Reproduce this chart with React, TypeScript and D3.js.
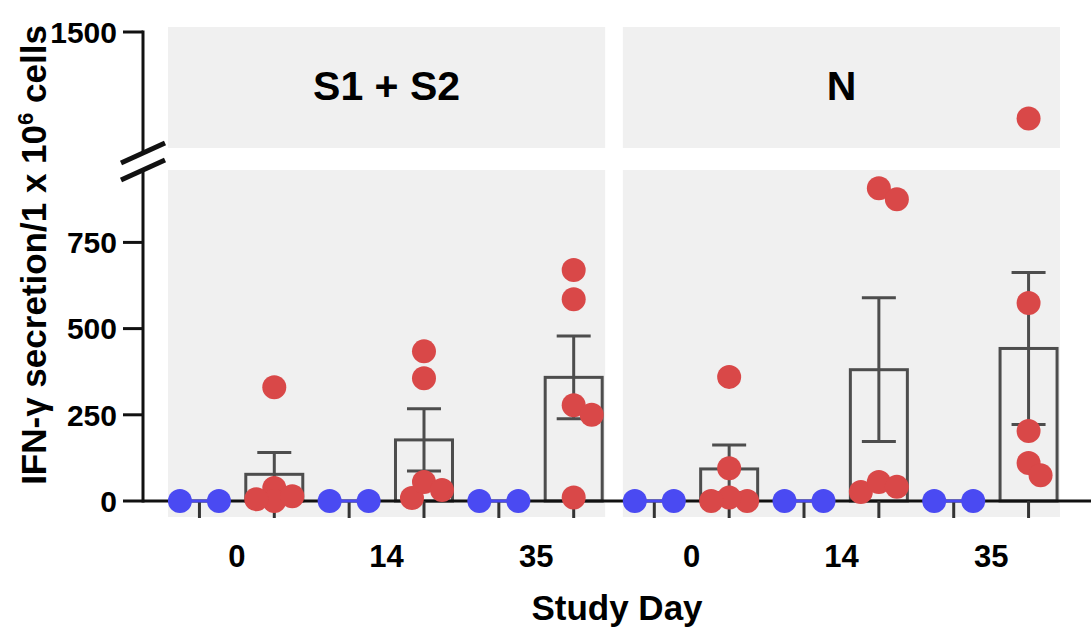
import React from 'react';
import * as d3 from 'd3';

// panels, days and the per-day groups
const panels = ['S1 + S2', 'N'];
const days = ['0', '14', '35'];

// IFN-γ values, one array per study day (control in blue, treated in red)
const s1s2Control = [[0, 0], [0, 0], [0, 0]];
const s1s2Treated = [
  [330, 38, 0, 5, 14],
  [434, 356, 9, 55, 32],
  [670, 585, 278, 250, 10],
];
const nControl = [[0, 0], [0, 0], [0, 0]];
const nTreated = [
  [360, 95, 0, 10, 0],
  [907, 875, 26, 55, 41],
  [1250, 574, 203, 110, 75],
];

const yTicksLower = [0, 250, 500, 750];
const yTicksUpper = [1500];
const lowerDomain = [0, 960];
const upperDomain = [1150, 1500];

const W = 1091;
const H = 634;
const FONT = '"Liberation Sans", Arial, Helvetica, sans-serif';
const RED = '#d94848';
const BLUE = '#4a4af2';
const BAR = '#4d4d4d';
const PANEL_BG = '#f0f0f0';

const mean = (a: number[]) => d3.mean(a) as number;
const sem = (a: number[]) => (a.length > 1 ? (d3.deviation(a) as number) / Math.sqrt(a.length) : 0);

// GraphPad-like horizontal spreading of points that would overlap
function spread(values: number[], yOf: (v: number) => number, step = 6, minDist = 17, maxOff = 24) {
  if (values.every((v) => v === values[0])) {
    return values.map((_, i) => (i - (values.length - 1) / 2) * 39);
  }
  const cands = [0];
  for (let k = 1; k * step <= maxOff; k++) cands.push(k * step, -k * step);
  const order = values.map((_, i) => i).sort((a, b) => values[b] - values[a] || a - b);
  const placed: { x: number; y: number }[] = [];
  const offs = new Array(values.length).fill(0);
  order.forEach((idx) => {
    const y = yOf(values[idx]);
    let pick: number | null = null;
    let bestC = 0;
    let bestD = -1;
    for (const c of cands) {
      const md = placed.length ? d3.min(placed, (p) => Math.hypot(c - p.x, y - p.y)) as number : Infinity;
      if (md >= minDist) { pick = c; break; }
      if (md > bestD) { bestD = md; bestC = c; }
    }
    offs[idx] = pick ?? bestC;
    placed.push({ x: offs[idx], y });
  });
  return offs;
}

export default function App() {
  const yLower = d3.scaleLinear().domain(lowerDomain).range([501, 170]);
  const yUpper = d3.scaleLinear().domain(upperDomain).range([153, 32]);
  const yOf = (v: number) => (v > lowerDomain[1] ? yUpper(v) : yLower(v));
  const y0 = yLower(0);
  const axisX = 143;

  const panelX = d3.scaleBand().domain(panels).range([168, 1060]).paddingInner(0.039);
  const bw = panelX.bandwidth();
  const slots = days.flatMap((d) => [`${d}-c`, `${d}-t`]);
  const slotX = d3.scalePoint().domain(slots).range([0, bw]).padding(0.42);

  const data = [
    { panel: 'S1 + S2', control: s1s2Control, treated: s1s2Treated },
    { panel: 'N', control: nControl, treated: nTreated },
  ];

  const barW = 57;
  const capW = 34;
  const r = 12;

  return (
    <svg width={W} height={H} style={{ position: 'absolute', left: 0, top: 0, background: '#fff' }} fontFamily={FONT}>
      {/* panel backgrounds and titles */}
      {panels.map((p) => (
        <g key={p}>
          <rect x={panelX(p)} y={yUpper(upperDomain[1]) - 5} width={bw}
            height={yUpper(upperDomain[0]) - yUpper(upperDomain[1])} fill={PANEL_BG} />
          <rect x={panelX(p)} y={yLower(lowerDomain[1])} width={bw}
            height={y0 + 16 - yLower(lowerDomain[1])} fill={PANEL_BG} />
          <text x={(panelX(p) as number) + bw / 2} y={100} textAnchor="middle" fontSize={41} fontWeight="bold">{p}</text>
        </g>
      ))}

      {/* bars and error bars for treated groups */}
      {data.map((pd) =>
        days.map((d, i) => {
          const vals = pd.treated[i];
          const m = mean(vals);
          const e = sem(vals);
          const cx = (panelX(pd.panel) as number) + (slotX(`${d}-t`) as number);
          return (
            <g key={`${pd.panel}-${d}-bar`} stroke={BAR} strokeWidth={3} fill="none">
              <rect x={cx - barW / 2} y={yLower(m)} width={barW} height={y0 - yLower(m)} />
              <line x1={cx} x2={cx} y1={yLower(m - e)} y2={yLower(m + e)} />
              <line x1={cx - capW / 2} x2={cx + capW / 2} y1={yLower(m + e)} y2={yLower(m + e)} />
              <line x1={cx - capW / 2} x2={cx + capW / 2} y1={yLower(m - e)} y2={yLower(m - e)} />
            </g>
          );
        })
      )}

      {/* x axis */}
      <line x1={axisX} x2={W} y1={y0} y2={y0} stroke="#111" strokeWidth={3} />
      {data.map((pd) =>
        slots.map((s) => {
          const x = (panelX(pd.panel) as number) + (slotX(s) as number);
          return <line key={`${pd.panel}-${s}-tick`} x1={x} x2={x} y1={y0} y2={y0 + 17} stroke="#333" strokeWidth={3} />;
        })
      )}
      {/* zero-height control bars */}
      {data.map((pd) =>
        days.map((d, i) => {
          const cx = (panelX(pd.panel) as number) + (slotX(`${d}-c`) as number);
          const m = mean(pd.control[i]);
          return <line key={`${pd.panel}-${d}-cbar`} x1={cx - barW / 2} x2={cx + barW / 2} y1={yLower(m)} y2={yLower(m)} stroke={BLUE} strokeWidth={3} />;
        })
      )}

      {/* y axis: two segments with a break */}
      <g stroke="#111" strokeWidth={3}>
        <line x1={axisX} x2={axisX} y1={y0 + 1.5} y2={yLower(lowerDomain[1])} />
        <line x1={axisX} x2={axisX} y1={yUpper(upperDomain[0])} y2={yUpper(upperDomain[1]) - 1.5} />
        {yTicksLower.map((t) => <line key={t} x1={axisX - 20} x2={axisX} y1={yLower(t)} y2={yLower(t)} />)}
        {yTicksUpper.map((t) => <line key={t} x1={axisX - 20} x2={axisX} y1={yUpper(t)} y2={yUpper(t)} />)}
      </g>
      <g stroke="#111" strokeWidth={5}>
        {[yUpper(upperDomain[0]), yLower(lowerDomain[1])].map((yy, i) => (
          <line key={i} x1={axisX - 22} y1={yy + 10} x2={axisX + 22} y2={yy - 10} />
        ))}
      </g>
      <g fontSize={30} fontWeight="bold" textAnchor="end">
        {yTicksLower.map((t) => <text key={t} x={117} y={yLower(t)} dy="0.36em">{t}</text>)}
        {yTicksUpper.map((t) => <text key={t} x={117} y={yUpper(t)} dy="0.36em">{t}</text>)}
      </g>

      {/* points */}
      {data.map((pd) =>
        days.map((d, i) => {
          const cc = (panelX(pd.panel) as number) + (slotX(`${d}-c`) as number);
          const ct = (panelX(pd.panel) as number) + (slotX(`${d}-t`) as number);
          const co = spread(pd.control[i], yOf);
          const to = spread(pd.treated[i], yOf);
          return (
            <g key={`${pd.panel}-${d}-pts`}>
              {pd.control[i].map((v, j) => <circle key={`c${j}`} cx={cc + co[j]} cy={yOf(v)} r={r} fill={BLUE} />)}
              {pd.treated[i].map((v, j) => <circle key={`t${j}`} cx={ct + to[j]} cy={yOf(v)} r={r} fill={RED} />)}
            </g>
          );
        })
      )}

      {/* x tick labels */}
      <g fontSize={31} fontWeight="bold" textAnchor="middle">
        {data.map((pd) =>
          days.map((d) => {
            const x = (panelX(pd.panel) as number) + ((slotX(`${d}-c`) as number) + (slotX(`${d}-t`) as number)) / 2;
            return <text key={`${pd.panel}-${d}-lab`} x={x} y={567}>{d}</text>;
          })
        )}
      </g>

      {/* axis titles */}
      <text x={617} y={620} textAnchor="middle" fontSize={35} fontWeight="bold">Study Day</text>
      <text transform="translate(46,255) rotate(-90)" textAnchor="middle" fontSize={35} fontWeight="bold">
        IFN-γ secretion/1 x 10<tspan dy={-13} fontSize={22}>6</tspan><tspan dy={13}> cells</tspan>
      </text>
    </svg>
  );
}
